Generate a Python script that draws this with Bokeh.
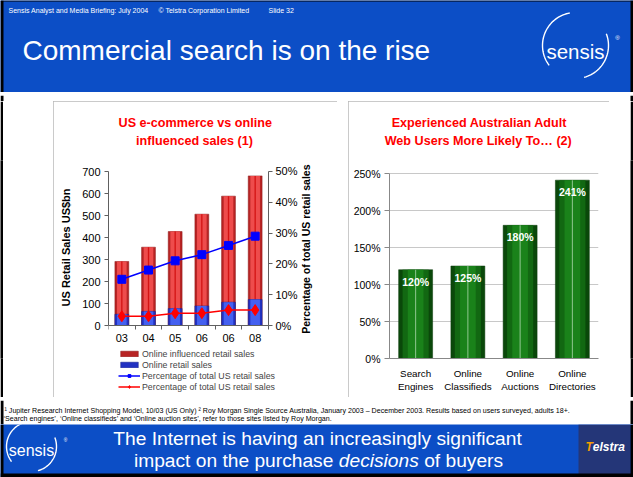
import math
import numpy as np
from bokeh.plotting import figure
from bokeh.layouts import column, row
from bokeh.models import (Range1d, LinearAxis, FixedTicker, Legend, LegendItem,
                          PrintfTickFormatter, FactorRange, Spacer)
from bokeh.core.properties import value
from bokeh.embed import file_html
from bokeh.resources import INLINE

FONT = "Liberation Sans"
NB = "\u00a0"

# ---------------- data ----------------
years = ["03", "04", "05", "06", "06", "08"]
influenced_sales = [291, 356, 427, 506, 588, 680]      # US$bn
online_sales = [51, 64, 77, 89, 106, 118]              # US$bn
influenced_pct = [15, 18, 21, 23, 26, 29]              # % of total US retail
online_pct = [3, 3, 4, 4, 5, 5]                        # % of total US retail
sales_ticks = [0, 100, 200, 300, 400, 500, 600, 700]
pct_ticks = [0, 10, 20, 30, 40, 50]

activities = ["Search Engines", "Online Classifieds", "Online Auctions", "Online Directories"]
likelihood = [120, 125, 180, 241]
likelihood_ticks = [0, 50, 100, 150, 200, 250]

# ---------------- geometry ----------------
W, H = 633, 477
HEADER_H, NOTE_H = 92, 24
TOP_GAP, PANEL_H, BOT_GAP = 9, 296, 3
FOOT_H = H - HEADER_H - TOP_GAP - PANEL_H - BOT_GAP - NOTE_H   # 53
P1_X, P1_W = 53, 284
P2_X, P2_W = 348, 261
BLUE = "#0C4EC6"
FRAME = "#000000"
PANEL_LINE = "#B8B8B8"
PANEL_STYLE = {"outline": f"2px solid {PANEL_LINE}", "outline-offset": "-2px"}


def deco_fig(w, h, bg):
    p = figure(frame_width=w, frame_height=h, x_range=Range1d(0, w), y_range=Range1d(h, 0),
               x_axis_type=None, y_axis_type=None, output_backend="svg",
               toolbar_location=None, min_border=0)
    p.outline_line_color = None
    p.background_fill_color = bg
    p.border_fill_color = bg
    return p


def black_bar(w, h):
    p = figure(width=w, height=h, x_axis_type=None, y_axis_type=None, output_backend="svg",
               toolbar_location=None, min_border=0)
    p.outline_line_color = None
    p.background_fill_color = FRAME
    p.border_fill_color = FRAME
    return p


def box(p, l, r, t, b, color):
    p.quad(left=[l], right=[r], top=[t], bottom=[b], fill_color=color, line_color=None)


def txt(p, x, y, s, size, color="white", align="left", baseline="middle", style="normal"):
    p.text(x=[x], y=[y], text=[s], text_font=value(FONT), text_font_size=size,
           text_color=color, text_align=align, text_baseline=baseline, text_font_style=style)


def sensis_logo(p, cx, cy, r, fs):
    a1 = np.radians(np.linspace(260, 143, 40))
    a2 = np.radians(np.linspace(-21, 75, 30))
    p.line(cx + r * np.cos(a1), cy + r * np.sin(a1), line_color="white", line_width=1.4)
    p.line(cx + r * np.cos(a2), cy + r * np.sin(a2), line_color="white", line_width=1.4)
    txt(p, cx, cy + fs * 0.27, "sensis", f"{fs}px", baseline="alphabetic", align="center")
    txt(p, cx + r + 9, cy - r * 0.25, "®", f"{fs*0.3:.1f}px", align="center")


def side_frame(p, w, h):
    box(p, 0, 3, 0, h, FRAME)
    box(p, w - 3, w, 0, h, FRAME)


# ---------------- header ----------------
hdr = deco_fig(W, HEADER_H, BLUE)
side_frame(hdr, W, HEADER_H)
box(hdr, 0, W, 0, 1, FRAME)
txt(hdr, 8, 10, "Sensis Analyst and Media Briefing: July 2004", "7px")
txt(hdr, 158, 10, "© Telstra Corporation Limited", "7px")
txt(hdr, 268, 10, "Slide 32", "7px")
txt(hdr, 22, 50, "Commercial search is on the rise", "28px")
sensis_logo(hdr, 575, 45, 33, 20.5)

top_strip = deco_fig(W, TOP_GAP, "white")
side_frame(top_strip, W, TOP_GAP)
bot_strip = deco_fig(W, BOT_GAP, "white")
side_frame(bot_strip, W, BOT_GAP)


def style_title(p, lines, standoff):
    p.title.text = "\n".join(lines)
    p.title.align = "center"
    p.title.text_color = "#FF0000"
    p.title.text_font = FONT
    p.title.text_font_style = "bold"
    p.title.text_font_size = "12.6px"
    p.title.text_line_height = 1.27
    p.title.standoff = standoff


# ---------------- left chart ----------------
# frame spans beyond the data area (room for legend and the right-hand axis label);
# the axes are bounded to the data span
xs = list(range(len(years)))
p1 = figure(frame_width=212, frame_height=232, x_range=Range1d(-0.5, 7.45),
            y_range=Range1d(-304.545, 750), output_backend="svg", toolbar_location=None,
            min_border_left=55, min_border_right=17, min_border_top=59, min_border_bottom=5)
p1.extra_y_ranges = {"pct": Range1d(-21.753, 53.571)}
p1.outline_line_color = None
p1.grid.visible = False
style_title(p1, ["US e-commerce vs online" + NB * 11,
                 NB * 5 + "influenced sales (1)" + NB * 16], 25)

r_inf = p1.vbar(x=xs, top=influenced_sales, width=0.52, fill_color="#B82424", line_color="#8A1818",
                line_width=0.5)
p1.vbar(x=xs, top=influenced_sales, width=0.36, fill_color="#EE4C4C", line_color=None)
p1.vbar(x=xs, top=influenced_sales, width=0.05, fill_color="#D41414", line_color=None)
r_onl = p1.vbar(x=xs, top=online_sales, width=0.52, fill_color="#2232C2", line_color="#18208A",
                line_width=0.5)
p1.vbar(x=xs, top=online_sales, width=0.36, fill_color="#4460F0", line_color=None)

l_blue = p1.line(xs, influenced_pct, y_range_name="pct", line_color="#0000FF", line_width=1.5)
m_blue = p1.scatter(xs, influenced_pct, y_range_name="pct", marker="square", size=8,
                    fill_color="#0000FF", line_color="#0000FF")
l_red = p1.line(xs, online_pct, y_range_name="pct", line_color="#FF0000", line_width=1.5)
m_red = p1.scatter(xs, online_pct, y_range_name="pct", marker="diamond", size=11,
                   fill_color="#FF0000", line_color="#FF0000")

AX = "#606060"
yl = p1.left[0]
yl.ticker = FixedTicker(ticks=sales_ticks)
yl.bounds = (0, 700)
yl.axis_label = NB * 19 + "US Retail Sales US$bn"
xb = p1.below[0]
xb.fixed_location = 0
xb.bounds = (-0.5, len(years) - 0.5)
xb.ticker = FixedTicker(ticks=xs, minor_ticks=[i - 0.5 for i in range(len(years) + 1)])
xb.major_label_overrides = {i: y for i, y in enumerate(years)}
xb.major_tick_line_color = None
xb.minor_tick_out = 4
xb.minor_tick_in = 0
xb.minor_tick_line_color = AX

yr = LinearAxis(y_range_name="pct", ticker=FixedTicker(ticks=pct_ticks), bounds=(0, 50),
                formatter=PrintfTickFormatter(format="%d%%"), fixed_location=len(years) - 0.5)
p1.add_layout(yr, "right")

for ax in (yl, yr, xb):
    ax.axis_line_color = AX
    ax.major_tick_out = 4
    ax.major_tick_in = 0
    ax.major_label_standoff = 4
    ax.major_label_text_font = FONT
    ax.major_label_text_font_size = "11px"
    ax.major_label_text_color = "black"
    ax.axis_label_text_font = FONT
    ax.axis_label_text_font_size = "11px"
    ax.axis_label_text_font_style = "bold"
    ax.axis_label_text_color = "black"
for ax in (yl, yr):
    ax.major_tick_line_color = AX
    ax.minor_tick_line_color = None
yl.axis_label_standoff = 7
yr.major_label_standoff = 3

# right-hand axis title, reading bottom to top like the original
p1.text(x=[6.89], y=[24.8], y_range_name="pct", text=["Percentage of total US retail sales"],
        angle=math.pi / 2, text_align="center", text_baseline="middle", text_font=value(FONT),
        text_font_size="10.5px", text_font_style="bold", text_color="black")

legend = Legend(items=[
    LegendItem(label="Online influenced retail sales", renderers=[r_inf]),
    LegendItem(label="Online retail sales", renderers=[r_onl]),
    LegendItem(label="Percentage of total US retail sales", renderers=[l_blue, m_blue]),
    LegendItem(label="Percentage of total US retail sales", renderers=[l_red, m_red]),
], location=(10, 0), orientation="vertical", border_line_color=None, background_fill_alpha=0,
    label_text_font=FONT, label_text_font_size="8.8px", glyph_width=22, glyph_height=7,
    label_height=11, spacing=0, padding=0, margin=0, label_standoff=2)
p1.add_layout(legend, "center")

# ---------------- right chart ----------------
cats = [a.replace(" ", "\n") for a in activities]
p2 = figure(frame_width=209, frame_height=198, x_range=FactorRange(factors=cats),
            y_range=Range1d(0, 267.57), output_backend="svg", toolbar_location=None,
            min_border_left=41, min_border_right=11, min_border_top=59, min_border_bottom=39)
p2.outline_line_color = None
p2.xgrid.visible = False
p2.ygrid.grid_line_color = "#C8C8C8"
p2.ygrid.ticker = FixedTicker(ticks=likelihood_ticks)
style_title(p2, [NB * 2 + "Experienced Australian Adult" + NB * 10,
                 "Web Users More Likely To… (2)" + NB * 9], 25)
p2.vbar(x=cats, top=likelihood, width=0.65, fill_color="#0A480A", line_color="#0A3A0A", line_width=0.5)
p2.vbar(x=cats, top=likelihood, width=0.5, fill_color="#126812", line_color=None)
p2.vbar(x=cats, top=likelihood, width=0.3, fill_color="#1A821A", line_color=None)
p2.vbar(x=cats, top=likelihood, width=0.02, fill_color="#8CC48C", line_color=None)
p2.text(x=cats, y=likelihood, text=[f"{v}%" for v in likelihood], text_font=value(FONT),
        text_font_size="10.5px", text_font_style="bold", text_color="white",
        text_align="center", text_baseline="top", y_offset=6)

ya = p2.left[0]
ya.ticker = FixedTicker(ticks=likelihood_ticks)
ya.formatter = PrintfTickFormatter(format="%d%%")
ya.bounds = (0, 250)
xa = p2.below[0]
for ax in (ya, xa):
    ax.axis_line_color = "#888888"
    ax.major_tick_line_color = "#888888"
    ax.minor_tick_line_color = None
    ax.major_tick_out = 5
    ax.major_tick_in = 0
    ax.major_label_text_font = FONT
    ax.major_label_text_color = "black"
ya.major_label_text_font_size = "10.5px"
ya.major_label_standoff = 4
xa.major_tick_line_color = None
xa.major_label_text_font_size = "9.8px"
xa.major_label_standoff = 4

p1.styles = PANEL_STYLE
p2.styles = PANEL_STYLE

middle = column(
    top_strip,
    row(black_bar(3, PANEL_H), Spacer(width=P1_X - 3, height=PANEL_H), p1,
        Spacer(width=P2_X - P1_X - P1_W, height=PANEL_H), p2,
        Spacer(width=W - P2_X - P2_W - 3, height=PANEL_H), black_bar(3, PANEL_H)),
    bot_strip,
)

# ---------------- footnotes ----------------
note = deco_fig(W, NOTE_H, "white")
side_frame(note, W, NOTE_H)
txt(note, 4, 10, "¹ Jupiter Research Internet Shopping Model, 10/03 (US Only)  ² Roy Morgan Single Source "
    "Australia, January 2003 – December 2003. Results based on users surveyed, adults 18+.",
    "7.1px", color="black")
txt(note, 3, 18, "‘Search engines’, ‘Online classifieds’ and ‘Online auction sites’, refer to those sites "
    "listed by Roy Morgan.", "7.1px", color="black")

# ---------------- footer ----------------
foot = deco_fig(W, FOOT_H, BLUE)
box(foot, 578, 630, 0, FOOT_H, "#243678")
side_frame(foot, W, FOOT_H)
box(foot, 0, W, FOOT_H - 4, FOOT_H, FRAME)
FS = 19.2
txt(foot, 317, 14, "The Internet is having an increasingly significant", f"{FS}px", align="center")
x0 = 318 - 19.23 * FS / 2
txt(foot, x0, 36, "impact on the purchase", f"{FS}px")
txt(foot, x0 + 10.672 * FS, 36, "decisions", f"{FS}px", style="italic")
txt(foot, x0 + 15.118 * FS, 36, "of buyers", f"{FS}px")
sensis_logo(foot, 31, 22, 25, 16)
txt(foot, 585, 22, "T", "12px", color="#F5A000", style="bold italic")
txt(foot, 592.3, 22, "elstra", "12px", style="bold italic")

page = column(hdr, middle, note, foot)

open("out.html", "w").write(file_html(page, INLINE))
